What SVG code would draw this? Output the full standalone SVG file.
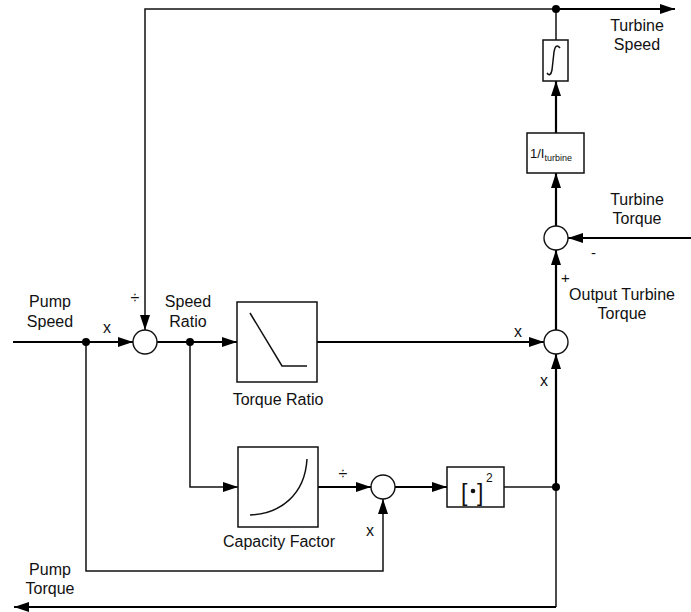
<svg xmlns="http://www.w3.org/2000/svg" width="691" height="612" viewBox="0 0 691 612">
<style>
text{font-family:"Liberation Sans",Arial,Helvetica,sans-serif;font-size:16px;fill:#111}
.blk{fill:#fff;stroke:#111;stroke-width:1.5}
.sum{fill:#fff;stroke:#111;stroke-width:1.4}
.thick{fill:none;stroke:#000;stroke-width:2.2}
.thin{fill:none;stroke:#111;stroke-width:1.5}
.ic{fill:none;stroke:#111;stroke-width:1.5}
.dot{fill:#000}
.m{text-anchor:middle}
.s{font-size:16px;text-anchor:middle}
</style>
<defs>
<marker id="ah" markerWidth="15" markerHeight="10" refX="15" refY="5" orient="auto" markerUnits="userSpaceOnUse">
<path d="M0,0 L15,5 L0,10 Z" fill="#000"/>
</marker>
</defs>
<g id="connectors">
<path class="thin" d="M556,9 H145 V330" marker-end="url(#ah)"/>
<path class="thick" d="M556,9 H675" marker-end="url(#ah)"/>
<path class="thin" d="M556,40 V9"/>
<path class="thick" d="M556,133 V81" marker-end="url(#ah)"/>
<path class="thick" d="M556,226 V173" marker-end="url(#ah)"/>
<path class="thick" d="M691,238 H568" marker-end="url(#ah)"/>
<path class="thick" d="M556,330 V250" marker-end="url(#ah)"/>
<path class="thick" d="M13,342 H133" marker-end="url(#ah)"/>
<path class="thick" d="M157,342 H237" marker-end="url(#ah)"/>
<path class="thick" d="M317,342 H544" marker-end="url(#ah)"/>
<path class="thin" d="M86,342 V571 H383 V499" marker-end="url(#ah)"/>
<path class="thin" d="M190,342 V487 H238" marker-end="url(#ah)"/>
<path class="thick" d="M318,487 H371" marker-end="url(#ah)"/>
<path class="thick" d="M395,487 H447" marker-end="url(#ah)"/>
<path class="thin" d="M504,487 H556"/>
<path class="thick" d="M556,487 V354" marker-end="url(#ah)"/>
<path class="thin" d="M556,487 V607"/>
<path class="thick" d="M556,607 H14" marker-end="url(#ah)"/>
<circle class="dot" cx="556" cy="9" r="4"/>
<circle class="dot" cx="86" cy="342" r="4"/>
<circle class="dot" cx="190" cy="342" r="4"/>
<circle class="dot" cx="556" cy="487" r="4"/>
</g>
<g id="integrator">
<rect class="blk" x="543" y="40" width="25" height="41"/>
<path class="ic" d="M547,73 C549,76 551,75 552,70 L554,52 C555,46 557,44 560,48"/>
</g>
<g id="inertia">
<rect class="blk" x="527" y="133" width="57" height="40"/>
<text x="530" y="158" style="font-size:13px">1/I<tspan dy="3" style="font-size:9px">turbine</tspan></text>
</g>
<g id="sum-torque">
<circle class="sum" cx="556" cy="238" r="12"/>
<text x="591" y="258" style="font-size:15px">-</text>
<text x="561" y="283" style="font-size:15px">+</text>
</g>
<g id="mult-output">
<circle class="sum" cx="556" cy="342" r="12"/>
<text class="s" x="518" y="337">x</text>
<text class="s" x="544" y="386">x</text>
</g>
<g id="div-speed">
<circle class="sum" cx="145" cy="342" r="12"/>
<text class="s" x="135" y="303">÷</text>
<text class="s" x="107" y="333">x</text>
</g>
<g id="torque-ratio">
<rect class="blk" x="237" y="302" width="80" height="80"/>
<path class="ic" d="M250,313 L282,366 H307"/>
<text class="m" x="278" y="405">Torque Ratio</text>
</g>
<g id="capacity-factor">
<rect class="blk" x="238" y="447" width="80" height="80"/>
<path class="ic" d="M250,515 C280,514 305,495 307,459"/>
<text class="m" x="279" y="547">Capacity Factor</text>
</g>
<g id="div-capacity">
<circle class="sum" cx="383" cy="487" r="12"/>
<text class="s" x="343" y="479">÷</text>
<text class="s" x="370" y="536">x</text>
</g>
<g id="square">
<rect class="blk" x="447" y="467" width="57" height="40"/>
<text x="461" y="501" style="font-size:23px">[</text>
<circle cx="473" cy="491" r="2.3" fill="#111"/>
<text x="477" y="501" style="font-size:23px">]</text>
<text x="486" y="482" style="font-size:12px">2</text>
</g>
<g id="labels">
<text class="m" x="637" y="31">Turbine</text>
<text class="m" x="637" y="50">Speed</text>
<text class="m" x="637" y="205">Turbine</text>
<text class="m" x="637" y="224">Torque</text>
<text class="m" x="622" y="300">Output Turbine</text>
<text class="m" x="622" y="319">Torque</text>
<text class="m" x="50" y="307">Pump</text>
<text class="m" x="50" y="327">Speed</text>
<text class="m" x="188" y="307">Speed</text>
<text class="m" x="188" y="327">Ratio</text>
<text class="m" x="50" y="575">Pump</text>
<text class="m" x="50" y="594">Torque</text>
</g>
</svg>
